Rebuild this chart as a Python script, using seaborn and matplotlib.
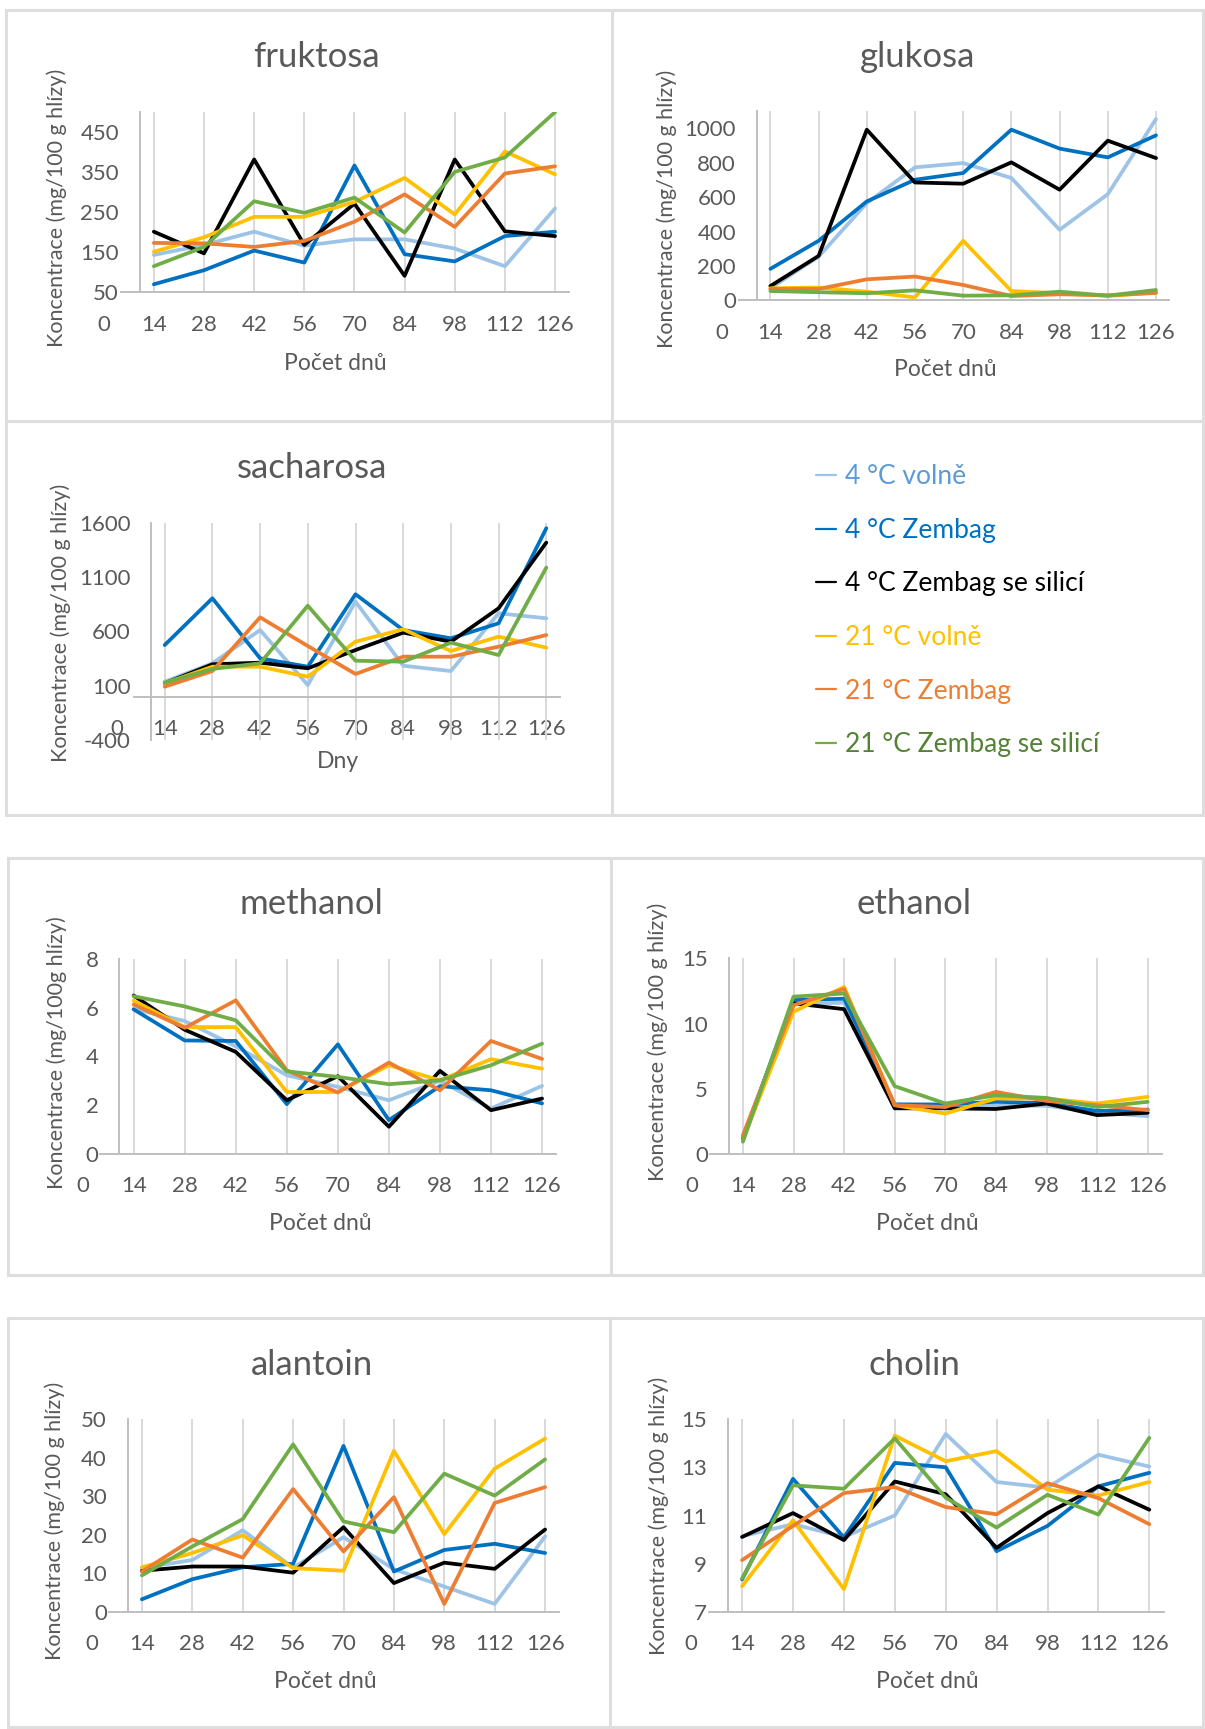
import numpy as np
import pandas as pd
import matplotlib
matplotlib.use("Agg")
import matplotlib.pyplot as plt
import seaborn as sns
from matplotlib.lines import Line2D

# ---------------- data ----------------
day_labels = ["0", "14", "28", "42", "56", "70", "84", "98", "112", "126"]
series_names = ["4 °C volně", "4 °C Zembag", "4 °C Zembag se silicí",
                "21 °C volně", "21 °C Zembag", "21 °C Zembag se silicí"]
line_colors = ["#9DC3E6", "#0070C0", "#000000", "#FFC000", "#ED7D31", "#70AD47"]
legend_text_colors = ["#5B9BD5", "#0070C0", "#000000", "#FFC000", "#ED7D31", "#548235"]

fruktosa = [
    [143, 168, 201, 166, 182, 182, 159, 115, 259],
    [70, 105, 154, 124, 366, 145, 127, 190, 201],
    [201, 147, 381, 168, 271, 91, 381, 202, 190],
    [151, 187, 238, 238, 275, 335, 244, 401, 344],
    [173, 172, 163, 178, 226, 294, 213, 346, 364],
    [115, 163, 277, 248, 286, 199, 350, 386, 499],
]
glukosa = [
    [70, 254, 565, 773, 798, 711, 410, 617, 1054],
    [183, 346, 575, 701, 740, 992, 882, 831, 959],
    [83, 258, 992, 685, 678, 802, 643, 928, 827],
    [70, 74, 50, 17, 346, 54, 41, 25, 45],
    [66, 66, 122, 138, 89, 25, 35, 29, 43],
    [54, 47, 41, 58, 27, 29, 50, 27, 60],
]
sacharosa = [
    [138, 307, 613, 107, 874, 285, 236, 767, 721],
    [475, 905, 353, 276, 942, 613, 537, 675, 1549],
    [123, 298, 313, 261, 429, 589, 506, 813, 1417],
    [123, 276, 276, 184, 506, 620, 420, 552, 451],
    [92, 236, 730, 466, 209, 368, 368, 460, 567],
    [129, 255, 307, 837, 331, 322, 497, 383, 1187],
]
methanol = [
    [5.96, 5.46, 4.42, 3.23, 2.75, 2.2, 3.0, 1.86, 2.79],
    [5.94, 4.66, 4.64, 2.04, 4.5, 1.38, 2.78, 2.61, 2.07],
    [6.51, 5.1, 4.19, 2.2, 3.19, 1.11, 3.41, 1.79, 2.27],
    [6.3, 5.21, 5.21, 2.54, 2.54, 3.64, 3.02, 3.89, 3.5],
    [6.14, 5.18, 6.31, 3.43, 2.52, 3.75, 2.61, 4.64, 3.9],
    [6.48, 6.06, 5.49, 3.39, 3.16, 2.86, 3.02, 3.64, 4.53],
]
ethanol = [
    [1.2, 11.5, 11.6, 3.8, 3.7, 3.7, 3.7, 3.2, 2.9],
    [1.2, 11.8, 11.9, 3.8, 3.8, 4.0, 3.9, 3.3, 3.4],
    [1.1, 11.55, 11.1, 3.5, 3.5, 3.45, 3.87, 2.98, 3.16],
    [1.1, 10.9, 12.8, 3.74, 3.1, 4.25, 4.25, 3.87, 4.38],
    [1.45, 11.4, 12.65, 3.74, 3.6, 4.76, 4.07, 3.74, 3.36],
    [0.94, 12.06, 12.3, 5.2, 3.87, 4.5, 4.3, 3.6, 4.0],
]
alantoin = [
    [11.4, 13.5, 21.2, 11.5, 19.4, 11.1, 6.6, 2.1, 19.6],
    [3.3, 8.5, 11.6, 12.5, 43.1, 10.5, 16.1, 17.7, 15.3],
    [10.7, 11.8, 11.8, 10.2, 22.0, 7.5, 12.8, 11.2, 21.4],
    [11.6, 15.3, 19.9, 11.4, 10.7, 41.8, 20.2, 37.2, 45.0],
    [10.5, 18.8, 14.1, 31.9, 15.7, 29.8, 2.1, 28.3, 32.4],
    [9.5, 17.0, 24.1, 43.5, 23.5, 20.7, 35.9, 30.2, 39.6],
]
cholin = [
    [10.14, 10.64, 10.11, 11.0, 14.38, 12.39, 12.15, 13.52, 13.03],
    [8.35, 12.52, 10.09, 13.18, 13.0, 9.52, 10.57, 12.21, 12.77],
    [10.11, 11.1, 9.98, 12.41, 11.88, 9.66, 11.1, 12.21, 11.24],
    [8.07, 10.8, 7.95, 14.31, 13.25, 13.67, 12.07, 11.83, 12.39],
    [9.15, 10.57, 11.93, 12.18, 11.35, 11.05, 12.34, 11.72, 10.64],
    [8.39, 12.25, 12.11, 14.2, 11.74, 10.5, 11.86, 11.04, 14.22],
]

# ---------------- style ----------------
sns.set_theme(style="white")
plt.rcParams["font.family"] = ["Lato", "DejaVu Sans"]
TXT = "#595959"
GRID = "#D9D9D9"
AXIS = "#BFBFBF"
BORDER = "#DEDEDE"

W, H = 1205, 1729
fig = plt.figure(figsize=(W / 100, H / 100), dpi=100)
fig.patch.set_facecolor("white")

XMIN, XMAX = -0.35, 9.3
SPINE_POS = 0.72


def fx(px):
    return px / W


def fy(py):
    return 1 - py / H


def panel(values, title, ylim, yticks, p0, sp, ytop, ybot, title_xy, ylab, ylab_xy,
          xlab, xlab_xy, axis_at=None):
    left = p0 + XMIN * sp
    width = (XMAX - XMIN) * sp
    ax = fig.add_axes([fx(left), fy(ybot), width / W, (ybot - ytop) / H])
    ax.set_facecolor("none")
    pos = np.arange(1, 10)
    df = pd.DataFrame({
        "pos": np.tile(pos, len(series_names)),
        "val": np.concatenate([np.asarray(v, float) for v in values]),
        "series": np.repeat(series_names, len(pos)),
    })
    sns.lineplot(data=df, x="pos", y="val", hue="series", hue_order=series_names,
                 palette=line_colors, ax=ax, legend=False, linewidth=2.7,
                 estimator=None, sort=False)
    for ln in ax.lines:
        ln.set_solid_joinstyle("round")
        ln.set_zorder(3)
    for x in range(1, 10):
        ax.axvline(x, color=GRID, lw=1.4, zorder=1)
    ax.set_xlim(XMIN, XMAX)
    ax.set_ylim(*ylim)
    ax.set_xticks(range(10))
    ax.set_xticklabels(day_labels)
    ax.set_yticks(yticks)
    ax.set_yticklabels([str(t) for t in yticks])
    ax.set_xlabel("")
    ax.set_ylabel("")
    ax.grid(False)
    for s in ["top", "right"]:
        ax.spines[s].set_visible(False)
    ax.spines["left"].set_position(("data", SPINE_POS))
    ax.spines["left"].set_color(AXIS)
    ax.spines["left"].set_linewidth(1.4)
    ax.spines["bottom"].set_color(AXIS)
    ax.spines["bottom"].set_linewidth(1.4)
    ax.spines["bottom"].set_bounds(0.35, 9.28)
    if axis_at is not None:
        ax.spines["bottom"].set_position(("data", axis_at))
    ax.tick_params(axis="both", length=0, labelsize=16, colors=TXT)
    ax.tick_params(axis="x", pad=16)
    ax.tick_params(axis="y", pad=15)
    fig.text(fx(title_xy[0]), fy(title_xy[1]), title, ha="center", va="center",
             fontsize=25, color=TXT)
    fig.text(fx(ylab_xy[0]), fy(ylab_xy[1]), ylab, ha="center", va="center",
             rotation=90, fontsize=15.5, color=TXT)
    fig.text(fx(xlab_xy[0]), fy(xlab_xy[1]), xlab, ha="center", va="center",
             fontsize=16.5, color=TXT)
    return ax


YL = "Koncentrace (mg/100 g hlízy)"
XL = "Počet dnů"

panel(fruktosa, "fruktosa", (50, 500), [50, 150, 250, 350, 450],
      103.7, 50.15, 111.7, 292.3, (316, 57), YL, (57, 208), XL, (335, 363))
panel(glukosa, "glukosa", (0, 1100), [0, 200, 400, 600, 800, 1000],
      722.2, 48.2, 111.1, 300.3, (918, 57), YL, (667, 209), XL, (945, 370))
panel(sacharosa, "sacharosa", (-400, 1600), [-400, 100, 600, 1100, 1600],
      117, 47.7, 522.7, 740.2, (312, 468), YL, (61, 623), "Dny", (338, 761),
      axis_at=0)
panel(methanol, "methanol", (0, 8), [0, 2, 4, 6, 8],
      82.6, 51.05, 959.3, 1153.7, (311, 904), "Koncentrace (mg/100g hlízy)",
      (57, 1053), XL, (320, 1224))
panel(ethanol, "ethanol", (0, 15), [0, 5, 10, 15],
      692.3, 50.6, 958.3, 1154, (914, 904), YL, (658, 1042), XL, (927, 1224))
panel(alantoin, "alantoin", (0, 50), [0, 10, 20, 30, 40, 50],
      91.5, 50.4, 1419.3, 1612, (312, 1365), YL, (55, 1521), XL, (325, 1681))
panel(cholin, "cholin", (7, 15), [7, 9, 11, 13, 15],
      691.2, 50.9, 1419, 1612, (914, 1365), YL, (659, 1516), XL, (927, 1681))

# ---------------- legend ----------------
handles = [Line2D([0], [0], color=c, lw=1.6) for c in line_colors]
fig.legend(handles, series_names, loc="upper left",
           bbox_to_anchor=(fx(816), fy(464.5)), frameon=False, fontsize=19,
           labelcolor=legend_text_colors, handlelength=0.75, handletextpad=0.36,
           labelspacing=1.08, borderpad=0, borderaxespad=0)

# ---------------- chart borders ----------------
def seg(x0, y0, x1, y1):
    fig.add_artist(Line2D([fx(x0), fx(x1)], [fy(y0), fy(y1)],
                          transform=fig.transFigure, color=BORDER, lw=2.2,
                          solid_capstyle="projecting", zorder=0))


def box(x0, y0, x1, y1):
    seg(x0, y0, x1, y0)
    seg(x0, y1, x1, y1)
    seg(x0, y0, x0, y1)
    seg(x1, y0, x1, y1)


box(6, 9.5, 1203, 815)
seg(612, 9.5, 612, 815)
seg(6, 421, 1203, 421)
box(8, 857.5, 1203, 1275)
seg(611, 857.5, 611, 1275)
box(8, 1318, 1203, 1727)
seg(610, 1318, 610, 1727)

fig.savefig("out.png", dpi=100, facecolor="white")
